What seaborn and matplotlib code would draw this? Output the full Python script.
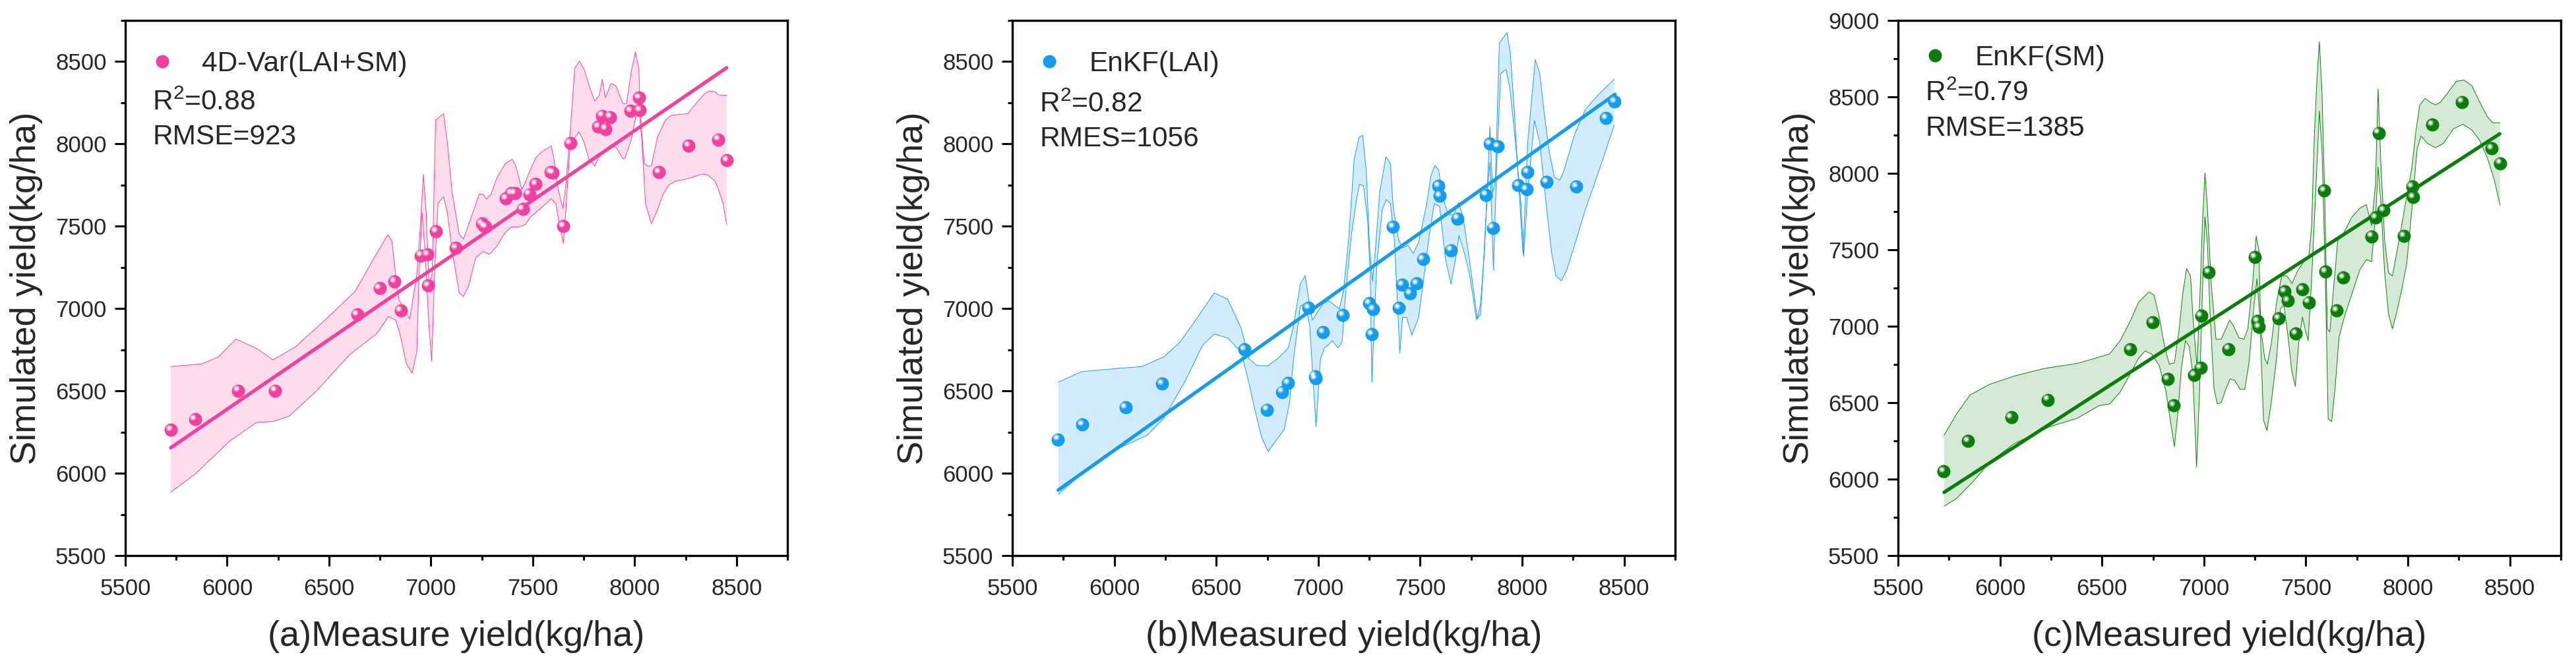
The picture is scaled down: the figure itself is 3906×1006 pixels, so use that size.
import numpy as np
import seaborn as sns
import matplotlib.pyplot as plt
from matplotlib.ticker import MultipleLocator, AutoMinorLocator
from matplotlib.transforms import offset_copy

# measured yield, same fields for all three panels
measured = [5724, 5842, 6055, 6234, 6638, 6748, 6822, 6852, 6951, 6983, 6986, 7024, 7121,
            7250, 7262, 7268, 7367, 7395, 7412, 7451, 7483, 7513, 7588, 7597, 7650, 7684,
            7822, 7841, 7856, 7880, 7980, 8021, 8025, 8119, 8264, 8411, 8452]

sim_4dvar = [6265, 6327, 6502, 6502, 6964, 7126, 7166, 6987, 7323, 7330, 7142, 7469, 7369,
             7516, 7502, 7498, 7669, 7702, 7702, 7606, 7695, 7756, 7829, 7825, 7502, 8005,
             8105, 8171, 8091, 8163, 8202, 8281, 8205, 7828, 7988, 8027, 7902]

sim_enkf_lai = [6206, 6296, 6399, 6543, 6754, 6386, 6494, 6548, 7003, 6590, 6575, 6856, 6959,
                7031, 6843, 6995, 7498, 7003, 7144, 7093, 7152, 7301, 7745, 7686, 7355, 7547,
                7691, 8002, 7491, 7984, 7748, 7725, 7830, 7768, 7742, 8156, 8256]

sim_enkf_sm = [6052, 6251, 6406, 6519, 6848, 7025, 6655, 6481, 6682, 6727, 7069, 7354, 6851,
               7453, 7033, 6997, 7052, 7229, 7166, 6953, 7240, 7157, 7887, 7356, 7102, 7318,
               7588, 7710, 8265, 7757, 7591, 7914, 7843, 8320, 8467, 8163, 8066]

# fitted line end points
fit_a_x, fit_a_y = [5723, 8452], [6155, 8463]
fit_b_x, fit_b_y = [5725, 8455], [5898, 8301]
fit_c_x, fit_c_y = [5726, 8450], [5914, 8258]

# shaded band outlines
a_up_x = [5723, 5876, 5957, 6043, 6145, 6225, 6333, 6494, 6628, 6735, 6789, 6809, 6827, 6844,
          6896, 6931, 6948, 6963, 6977, 6991, 7006, 7023, 7062, 7081, 7104, 7139, 7160, 7197,
          7237, 7255, 7272, 7295, 7324, 7365, 7399, 7417, 7446, 7463, 7486, 7515, 7544, 7590,
          7602, 7625, 7648, 7665, 7683, 7706, 7729, 7752, 7781, 7804, 7827, 7841, 7856, 7885,
          7908, 7943, 7960, 7983, 8004, 8021, 8027, 8047, 8064, 8082, 8111, 8151, 8180, 8261,
          8296, 8342, 8365, 8394, 8411, 8452]
a_up_y = [6648, 6664, 6707, 6815, 6758, 6689, 6766, 6946, 7105, 7337, 7450, 7409, 7209, 7052,
          6937, 7209, 7495, 7816, 7581, 7137, 7209, 8145, 8184, 8010, 7709, 7452, 7423, 7552,
          7695, 7695, 7666, 7695, 7795, 7881, 7907, 7867, 7724, 7766, 7838, 7917, 7952, 7988,
          7924, 7724, 7609, 7781, 8067, 8460, 8503, 8453, 8338, 8260, 8295, 8393, 8281, 8367,
          8353, 8245, 8245, 8438, 8560, 8453, 8210, 7881, 7866, 7866, 8038, 8145, 8174, 8184,
          8238, 8303, 8321, 8317, 8298, 8295]
a_lo_x = [5723, 5849, 6010, 6145, 6225, 6306, 6440, 6601, 6735, 6792, 6827, 6850, 6879, 6908,
          6931, 6942, 6957, 6971, 6989, 7004, 7018, 7035, 7062, 7081, 7104, 7139, 7160, 7185,
          7220, 7255, 7289, 7324, 7359, 7393, 7428, 7463, 7486, 7532, 7590, 7613, 7631, 7650,
          7660, 7683, 7706, 7727, 7752, 7775, 7804, 7833, 7879, 7908, 7943, 7954, 7983, 8006,
          8024, 8035, 8053, 8082, 8111, 8140, 8169, 8203, 8261, 8330, 8359, 8394, 8411, 8434,
          8452]
a_lo_y = [5885, 6001, 6194, 6309, 6314, 6348, 6502, 6720, 6849, 6952, 6930, 6837, 6666, 6608,
          6737, 7209, 7581, 7352, 6923, 6680, 7209, 7638, 7681, 7581, 7352, 7095, 7073, 7137,
          7309, 7345, 7330, 7380, 7452, 7495, 7495, 7509, 7552, 7602, 7666, 7638, 7509, 7395,
          7552, 7981, 8038, 8074, 8010, 7909, 7866, 7938, 7981, 7981, 7909, 7917, 8024, 8167,
          8181, 8024, 7638, 7516, 7595, 7695, 7752, 7774, 7788, 7817, 7812, 7774, 7724, 7638,
          7509]

b_up_x = [5725, 5840, 6028, 6135, 6243, 6323, 6403, 6490, 6556, 6622, 6661, 6701, 6754, 6807,
          6853, 6879, 6912, 6936, 6952, 6971, 6998, 7024, 7051, 7077, 7103, 7123, 7150, 7176,
          7200, 7218, 7235, 7252, 7266, 7281, 7301, 7332, 7354, 7367, 7394, 7413, 7440, 7466,
          7492, 7532, 7552, 7572, 7591, 7611, 7638, 7664, 7688, 7710, 7737, 7763, 7780, 7796,
          7816, 7842, 7855, 7868, 7888, 7925, 7941, 7961, 7980, 8004, 8027, 8064, 8086, 8106,
          8132, 8158, 8185, 8205, 8257, 8310, 8363, 8452]
b_up_y = [6553, 6617, 6638, 6648, 6707, 6797, 6938, 7095, 7057, 6880, 6695, 6653, 6653, 6703,
          6762, 6897, 7149, 7200, 7065, 6931, 6981, 7031, 7048, 7023, 6998, 7099, 7435, 7906,
          8041, 8052, 7839, 7368, 7166, 7368, 7704, 7923, 7881, 7620, 7418, 7368, 7385, 7334,
          7402, 7637, 7805, 7869, 7839, 7671, 7570, 7570, 7645, 7553, 7334, 7099, 6939, 7031,
          7368, 8108, 7704, 7772, 8613, 8676, 8562, 8209, 7805, 7334, 8007, 8512, 8428, 8209,
          7957, 7797, 7780, 7839, 8058, 8209, 8285, 8394]
b_lo_x = [5725, 5867, 6028, 6162, 6243, 6350, 6430, 6490, 6556, 6622, 6661, 6688, 6721, 6754,
          6793, 6833, 6859, 6879, 6912, 6936, 6958, 6989, 7011, 7031, 7070, 7097, 7117, 7136,
          7163, 7189, 7202, 7222, 7242, 7255, 7263, 7275, 7288, 7314, 7334, 7354, 7374, 7400,
          7413, 7433, 7459, 7492, 7519, 7545, 7569, 7595, 7624, 7651, 7671, 7690, 7717, 7743,
          7776, 7796, 7809, 7829, 7842, 7859, 7875, 7895, 7921, 7941, 7967, 7994, 8007, 8027,
          8060, 8086, 8106, 8126, 8145, 8165, 8192, 8218, 8257, 8310, 8363, 8452]
b_lo_y = [5872, 6027, 6155, 6232, 6335, 6566, 6772, 6846, 6821, 6737, 6544, 6392, 6224, 6132,
          6199, 6266, 6426, 6695, 7015, 7031, 6897, 6283, 6695, 6762, 6804, 6762, 6796, 7116,
          7452, 7671, 7755, 7746, 7536, 7200, 6552, 6947, 7284, 7603, 7662, 7637, 7401, 6729,
          6947, 6947, 6838, 6947, 7200, 7452, 7637, 7620, 7301, 7149, 7284, 7444, 7334, 7200,
          6934, 6964, 7250, 7704, 7889, 7233, 7873, 8428, 8453, 8327, 8007, 7637, 7317, 7704,
          8142, 8007, 7772, 7536, 7334, 7200, 7169, 7233, 7385, 7603, 7788, 8116]

c_up_x = [5726, 5786, 5853, 5947, 6069, 6217, 6379, 6486, 6538, 6589, 6641, 6679, 6730, 6755,
          6781, 6807, 6830, 6855, 6877, 6896, 6915, 6934, 6947, 6966, 6979, 6992, 7005, 7017,
          7036, 7059, 7085, 7107, 7126, 7145, 7171, 7196, 7215, 7238, 7256, 7269, 7279, 7298,
          7311, 7330, 7356, 7381, 7407, 7432, 7458, 7490, 7515, 7528, 7541, 7554, 7566, 7579,
          7592, 7605, 7617, 7637, 7656, 7688, 7726, 7764, 7796, 7822, 7841, 7854, 7867, 7886,
          7905, 7924, 7943, 7969, 7994, 8020, 8039, 8058, 8084, 8109, 8135, 8160, 8199, 8237,
          8275, 8314, 8352, 8390, 8416, 8452]
c_up_y = [6287, 6425, 6550, 6619, 6674, 6724, 6757, 6798, 6819, 6906, 7040, 7156, 7224, 7204,
          7060, 6867, 6752, 6761, 6963, 7214, 7377, 7329, 7040, 6732, 7156, 7657, 8003, 7772,
          7272, 6915, 6915, 6983, 7040, 7002, 6925, 6915, 6983, 7272, 7589, 7503, 6983, 6790,
          6752, 6886, 7156, 7329, 7329, 7281, 7358, 7426, 7464, 7657, 8235, 8620, 8861, 8523,
          7849, 6983, 6963, 7272, 7560, 7618, 7715, 7772, 7795, 7657, 7927, 8552, 8081, 7560,
          7349, 7329, 7464, 7657, 7849, 8042, 8273, 8447, 8489, 8466, 8447, 8466, 8533, 8601,
          8610, 8572, 8466, 8369, 8331, 8331]
c_lo_x = [5726, 5786, 5867, 5947, 6069, 6244, 6379, 6486, 6538, 6589, 6641, 6679, 6711, 6743,
          6781, 6813, 6835, 6855, 6870, 6890, 6909, 6928, 6945, 6964, 6979, 6996, 7005, 7017,
          7030, 7049, 7065, 7085, 7107, 7128, 7151, 7177, 7200, 7222, 7241, 7260, 7273, 7292,
          7309, 7330, 7356, 7375, 7392, 7413, 7430, 7448, 7464, 7483, 7499, 7511, 7528, 7547,
          7566, 7579, 7596, 7609, 7626, 7643, 7662, 7688, 7726, 7764, 7796, 7822, 7844, 7854,
          7867, 7886, 7905, 7924, 7943, 7969, 7994, 8020, 8045, 8064, 8096, 8135, 8174, 8224,
          8269, 8314, 8352, 8390, 8422, 8452]
c_lo_y = [5823, 5873, 5983, 6108, 6232, 6343, 6398, 6481, 6492, 6569, 6694, 6790, 6838, 6819,
          6742, 6578, 6386, 6212, 6405, 6732, 6906, 6867, 6694, 6078, 6597, 7387, 7714, 7541,
          7079, 6597, 6492, 6501, 6588, 6655, 6646, 6588, 6588, 6771, 7079, 7310, 7079, 6386,
          6318, 6501, 6790, 7117, 7137, 6925, 6713, 6607, 6886, 7060, 6963, 6906, 7310, 7849,
          8408, 8138, 7272, 6395, 6376, 6597, 6925, 7060, 7214, 7368, 7435, 7422, 7772, 8042,
          7811, 7349, 7079, 6983, 7079, 7233, 7406, 7772, 8158, 8244, 8196, 8167, 8196, 8292,
          8321, 8283, 8215, 8100, 7965, 7792]

labels = ['4D-Var(LAI+SM)', 'EnKF(LAI)', 'EnKF(SM)']
stats = [['R$^{2}$=0.88', 'RMSE=923'], ['R$^{2}$=0.82', 'RMES=1056'], ['R$^{2}$=0.79', 'RMSE=1385']]
xlabels = ['(a)Measure yield(kg/ha)', '(b)Measured yield(kg/ha)', '(c)Measured yield(kg/ha)']

sns.set_theme(style='ticks')
plt.rcParams['font.family'] = ['Liberation Sans', 'DejaVu Sans']
plt.rcParams['mathtext.fontset'] = 'custom'
plt.rcParams['mathtext.rm'] = 'Liberation Sans'
plt.rcParams['mathtext.it'] = 'Liberation Sans:italic'

fig = plt.figure(figsize=(39.06, 10.06), dpi=100)
lefts = [0.04864, 0.39299, 0.73682]
widths = [0.25704, 0.2573, 0.2573]

panels = [
    dict(sim=sim_4dvar, fx=fit_a_x, fy=fit_a_y, ux=a_up_x, uy=a_up_y, lx=a_lo_x, ly=a_lo_y,
         color='#F2409E', light='#F9A3D0', fill='#FDDCEE', ytop=8750, leg_y=0.919,
         st_y=[0.8325, 0.7685]),
    dict(sim=sim_enkf_lai, fx=fit_b_x, fy=fit_b_y, ux=b_up_x, uy=b_up_y, lx=b_lo_x, ly=b_lo_y,
         color='#169CEC', light='#8CCDF5', fill='#D3ECFB', ytop=8750, leg_y=0.919,
         st_y=[0.829, 0.765]),
    dict(sim=sim_enkf_sm, fx=fit_c_x, fy=fit_c_y, ux=c_up_x, uy=c_up_y, lx=c_lo_x, ly=c_lo_y,
         color='#0B7D0B', light='#7FBF7F', fill='#D4EAD4', ytop=9000, leg_y=0.930,
         st_y=[0.850, 0.785]),
]

for i, p in enumerate(panels):
    ax = fig.add_axes([lefts[i], 0.1620, widths[i], 0.8072])

    # band
    ax.fill(np.r_[p['ux'], p['lx'][::-1]], np.r_[p['uy'], p['ly'][::-1]],
            color=p['fill'], lw=0, zorder=1)
    ax.plot(p['ux'], p['uy'], color=p['color'], lw=0.7, zorder=2)
    ax.plot(p['lx'], p['ly'], color=p['color'], lw=0.7, zorder=2)

    # fit line
    sns.lineplot(x=p['fx'], y=p['fy'], ax=ax, color=p['color'], lw=3.8, zorder=3,
                 solid_capstyle='round')

    # sphere-like points
    base = ax.scatter(measured, p['sim'], s=207, color=p['color'], lw=0, zorder=4)
    tr1 = offset_copy(ax.transData, fig=fig, x=-3.2, y=3.2, units='dots')
    ax.scatter(measured, p['sim'], s=45, color=p['light'], lw=0, alpha=0.9,
               zorder=5, transform=tr1)
    ax.scatter(measured, p['sim'], s=12, color='white', lw=0, zorder=6, transform=tr1)

    ax.set_xlim(5500, 8750)
    ax.set_ylim(5500, p['ytop'])
    ax.xaxis.set_major_locator(MultipleLocator(500))
    ax.yaxis.set_major_locator(MultipleLocator(500))
    ax.xaxis.set_minor_locator(AutoMinorLocator(2))
    ax.yaxis.set_minor_locator(AutoMinorLocator(2))
    ax.tick_params(which='major', direction='out', length=11.5, width=2.2, labelsize=25,
                   top=False, right=False, color='black')
    ax.tick_params(which='minor', direction='out', length=5, width=2.2,
                   top=False, right=False, color='black')
    ax.tick_params(axis='x', which='major', pad=13)
    ax.tick_params(axis='y', which='major', pad=9)
    for sp in ax.spines.values():
        sp.set_linewidth(2.4)
        sp.set_color('black')

    ax.set_xlabel(xlabels[i], fontsize=39)
    ax.set_ylabel('Simulated yield(kg/ha)', fontsize=39)
    ax.xaxis.set_label_coords(0.5, -0.121)
    ax.yaxis.set_label_coords(-0.124, 0.5)

    ax.legend(handles=[base], labels=[labels[i]], scatteryoffsets=[0.5],
              loc='center left', bbox_to_anchor=(0.035, p['leg_y']), frameon=False,
              fontsize=30.5, handlelength=1.0, handletextpad=0.92, borderpad=0,
              borderaxespad=0)

    ax.text(0.041, p['st_y'][0], stats[i][0], transform=ax.transAxes, fontsize=30.5,
            va='baseline', ha='left')
    ax.text(0.041, p['st_y'][1], stats[i][1], transform=ax.transAxes, fontsize=30.5,
            va='baseline', ha='left')

fig.savefig('out.png', dpi=100)
